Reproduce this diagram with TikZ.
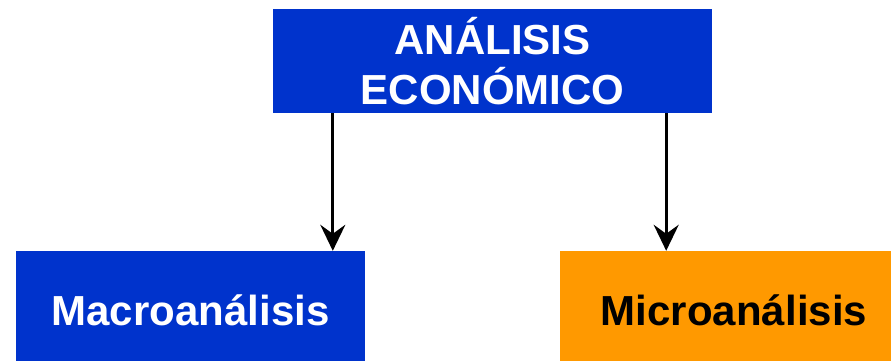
\documentclass[tikz,border=0pt]{standalone}
\usepackage{fontspec}
\setmainfont{Liberation Sans}
\usetikzlibrary{arrows.meta}
\definecolor{azul}{HTML}{0033CC}
\definecolor{naranja}{HTML}{FF9900}

\begin{document}
\begin{tikzpicture}[x=1pt,y=-1pt,
  caja/.style={rectangle,inner sep=0pt,align=center,
    font=\bfseries\fontsize{42}{50}\selectfont},
  flecha/.style={line width=3pt,-{Stealth[length=26pt,width=25pt,inset=9pt]}}]
\clip (0,0) rectangle (891,361);
\path (492.5,61) node[caja,fill=azul,text=white,minimum width=439pt,minimum height=104pt] (eco) {ANÁLISIS\\ECONÓMICO};

\path (190.5,310) node[caja,fill=azul,text=white,minimum width=349pt,minimum height=118pt] (macro) {Macroanálisis};
\path (734,310) node[caja,fill=naranja,text=black,minimum width=348pt,minimum height=118pt] (micro) {Microanálisis};
\draw[flecha] ([xshift=60pt]eco.south west) -- ([xshift=60pt]eco.south west |- macro.north);
\draw[flecha] ([xshift=-46pt]eco.south east) -- ([xshift=-46pt]eco.south east |- micro.north);
\end{tikzpicture}
\end{document}
